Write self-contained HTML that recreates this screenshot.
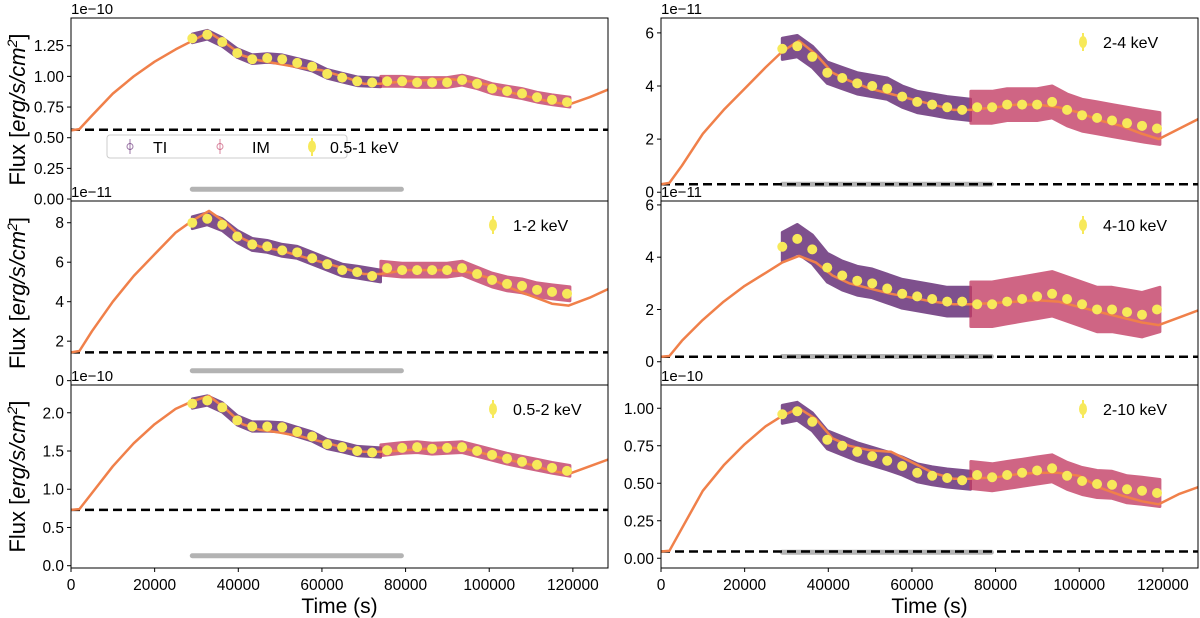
<!DOCTYPE html>
<html><head><meta charset="utf-8"><style>
body{margin:0;background:#fff}
svg{display:block;font-family:"Liberation Sans","DejaVu Sans",sans-serif}
</style></head><body>
<svg id="fig" width="1200" height="618" viewBox="0 0 1200 618"></svg>
<script>
// shared data
const binTimes = [29000,32584,36168,39752,43336,46920,50504,54088,57672,61256,64840,68424,72008,75592,79176,82760,86344,89928,93512,97096,100680,104264,107848,111432,115016,118600];
const modelTimes = [0,2000,5000,10000,15000,20000,25000,29000,33000,37000,41000,45000,50000,55000,60000,65000,70000,74000,80000,85000,90000,95000,100000,105000,110000,115000,119000,124000,129000];
const xTicks = [0,20000,40000,60000,80000,100000,120000];
// panel 1: 0.5-1 keV
const bins1 = [1.31,1.34,1.28,1.19,1.14,1.15,1.14,1.11,1.08,1.02,0.99,0.96,0.95,0.96,0.96,0.95,0.95,0.95,0.97,0.94,0.90,0.88,0.86,0.83,0.81,0.79];
const model1 = [0.56,0.57,0.68,0.86,1.00,1.12,1.22,1.29,1.36,1.27,1.17,1.13,1.10,1.07,1.05,1.00,0.94,0.94,0.96,0.97,0.98,0.96,0.93,0.87,0.83,0.79,0.77,0.83,0.90];
const ticks1 = [0,0.25,0.5,0.75,1.0,1.25];
const tickLabels1 = ["0.00","0.25","0.50","0.75","1.00","1.25"];
// panel 2: 1-2 keV
const bins2 = [8.0,8.2,7.9,7.3,6.9,6.8,6.6,6.5,6.2,5.9,5.6,5.5,5.3,5.7,5.6,5.6,5.6,5.6,5.7,5.4,5.1,4.9,4.8,4.6,4.5,4.4];
const model2 = [1.43,1.5,2.5,4.0,5.3,6.4,7.5,8.1,8.6,8.0,7.2,6.8,6.6,6.3,6.0,5.7,5.4,5.4,5.6,5.6,5.6,5.5,5.2,4.7,4.3,3.9,3.8,4.2,4.7];
const ticks2 = [0,2,4,6,8];
const tickLabels2 = ["0","2","4","6","8"];
// panel 3: 0.5-2 keV
const bins3 = [2.12,2.16,2.07,1.90,1.82,1.82,1.81,1.75,1.69,1.59,1.55,1.50,1.48,1.51,1.54,1.55,1.53,1.54,1.55,1.50,1.45,1.40,1.36,1.32,1.28,1.24];
const model3 = [0.73,0.74,0.95,1.30,1.60,1.85,2.05,2.15,2.22,2.05,1.85,1.78,1.74,1.69,1.62,1.55,1.49,1.49,1.51,1.53,1.55,1.52,1.45,1.38,1.32,1.24,1.20,1.30,1.40];
const ticks3 = [0,0.5,1.0,1.5,2.0];
const tickLabels3 = ["0.0","0.5","1.0","1.5","2.0"];
// panel 4: 2-4 keV
const bins4 = [5.4,5.5,5.1,4.5,4.3,4.1,4.0,3.9,3.6,3.4,3.3,3.2,3.1,3.2,3.2,3.3,3.3,3.3,3.4,3.1,2.9,2.8,2.7,2.6,2.5,2.4];
const model4 = [0.3,0.35,1.0,2.2,3.1,3.9,4.7,5.3,5.7,5.2,4.5,4.2,3.9,3.7,3.5,3.3,3.1,3.1,3.2,3.3,3.3,3.2,3.0,2.7,2.5,2.2,2.0,2.4,2.8];
const ticks4 = [0,2,4,6];
const tickLabels4 = ["0","2","4","6"];
// panel 5: 4-10 keV
const bins5 = [4.4,4.7,4.3,3.6,3.3,3.1,3.0,2.8,2.6,2.5,2.4,2.3,2.3,2.2,2.2,2.3,2.4,2.5,2.6,2.4,2.2,2.0,2.0,1.9,1.8,2.0];
const model5 = [0.19,0.22,0.8,1.6,2.3,2.9,3.4,3.8,4.05,3.8,3.3,3.0,2.8,2.6,2.45,2.3,2.2,2.2,2.25,2.3,2.35,2.3,2.1,1.9,1.7,1.5,1.4,1.7,2.0];
const ticks5 = [0,2,4,6];
const tickLabels5 = ["0","2","4","6"];
// panel 6: 2-10 keV
const bins6 = [0.96,0.98,0.91,0.79,0.75,0.71,0.68,0.65,0.615,0.57,0.55,0.535,0.52,0.555,0.54,0.555,0.57,0.585,0.60,0.55,0.515,0.495,0.49,0.46,0.45,0.435];
const model6 = [0.045,0.05,0.2,0.45,0.62,0.76,0.88,0.95,1.0,0.93,0.80,0.75,0.72,0.71,0.64,0.57,0.53,0.53,0.54,0.56,0.57,0.57,0.55,0.47,0.42,0.38,0.36,0.43,0.48];
const ticks6 = [0,0.25,0.5,0.75,1.0];
const tickLabels6 = ["0.00","0.25","0.50","0.75","1.00"];
// baselines and background levels
const baselines = [0.565,1.43,0.73,0.3,0.19,0.045];
const bkgLevels = [0.08,0.5,0.13,0.3,0.2,0.04];

const NS="http://www.w3.org/2000/svg";
const svg=document.getElementById('fig');
function mk(tag,attrs,parent){const e=document.createElementNS(NS,tag);for(const k in attrs)e.setAttribute(k,attrs[k]);(parent||svg).appendChild(e);return e;}

const panels=[
 {x0:71,x1:608,y0:18,y1:201,ymin:-0.016,ymax:1.476,bins:bins1,model:model1,ticks:ticks1,labels:tickLabels1,exp:"1e\u221210",name:"0.5-1 keV",spread:[0.035,0.04],xlab:false},
 {x0:71,x1:608,y0:201,y1:385,ymin:-0.22,ymax:9.1,bins:bins2,model:model2,ticks:ticks2,labels:tickLabels2,exp:"1e\u221211",name:"1-2 keV",spread:[0.3,0.35],xlab:false},
 {x0:71,x1:608,y0:385,y1:568,ymin:-0.03,ymax:2.363,bins:bins3,model:model3,ticks:ticks3,labels:tickLabels3,exp:"1e\u221210",name:"0.5-2 keV",spread:[0.06,0.07],xlab:true},
 {x0:661,x1:1198,y0:18,y1:201,ymin:-0.33,ymax:6.56,bins:bins4,model:model4,ticks:ticks4,labels:tickLabels4,exp:"1e\u221211",name:"2-4 keV",spread:[0.4,0.6],xlab:false},
 {x0:661,x1:1198,y0:201,y1:385,ymin:-0.89,ymax:6.15,bins:bins5,model:model5,ticks:ticks5,labels:tickLabels5,exp:"1e\u221211",name:"4-10 keV",spread:[0.55,0.85],xlab:false},
 {x0:661,x1:1198,y0:385,y1:568,ymin:-0.065,ymax:1.155,bins:bins6,model:model6,ticks:ticks6,labels:tickLabels6,exp:"1e\u221210",name:"2-10 keV",spread:[0.06,0.09],xlab:true}
];
const XMAX=128400;

panels.forEach((p,i)=>{
 const g=mk('g',{});
 
 
 const X=t=>p.x0+(t/XMAX)*(p.x1-p.x0);
 const Y=v=>p.y1-(v-p.ymin)/(p.ymax-p.ymin)*(p.y1-p.y0);
 const cid='clip'+i;
 const cp=mk('clipPath',{id:cid},g);mk('rect',{x:p.x0,y:p.y0,width:p.x1-p.x0,height:p.y1-p.y0},cp);
 const pg=mk('g',{'clip-path':'url(#'+cid+')'},g);
 const bk=mk('line',{x1:X(29000),x2:X(79000),y1:Y(bkgLevels[i]),y2:Y(bkgLevels[i]),stroke:'#9a9a9a','stroke-width':5,'stroke-linecap':'round',opacity:0.75},pg);
 
 
 const bl=mk('line',{x1:p.x0,x2:p.x1,y1:Y(baselines[i]),y2:Y(baselines[i]),stroke:'#000','stroke-width':2.5,'stroke-dasharray':'9,5'},pg);
 
 
 [[0,12,'#5b1f6e','ti'],[13,25,'#c23b62','im']].forEach(([a,b,col,nm],k)=>{
  const sp=p.spread[k];
  let up=[],dn=[];
  for(let j=a;j<=b;j++){const t=binTimes[j]+(j===a?(k?-1500:0):0)+(j===b?(k?700:2000):0);up.push(X(t).toFixed(1)+','+Y(p.bins[j]+sp).toFixed(1));dn.unshift(X(t).toFixed(1)+','+Y(p.bins[j]-sp).toFixed(1));}
  const pl=mk('polygon',{points:up.concat(dn).join(' '),fill:col,opacity:0.78,stroke:col,'stroke-width':3,'stroke-linejoin':'round'},pg);
  
  
 });
 const mp=p.model.map((v,j)=>X(modelTimes[j]).toFixed(1)+','+Y(v).toFixed(1)).join(' ');
 const ml=mk('polyline',{points:mp,fill:'none',stroke:'#f0804a','stroke-width':2.5,'stroke-linejoin':'round'},pg);
 
 
 p.bins.forEach((v,j)=>{
  const c=mk('circle',{cx:X(binTimes[j]),cy:Y(v),r:5,fill:'#f7e95a'},pg);
  
  
 });
 const fr=mk('rect',{x:p.x0,y:p.y0,width:p.x1-p.x0,height:p.y1-p.y0,fill:'none',stroke:'#000','stroke-width':1},g);
 
 
 p.ticks.forEach((v,j)=>{
  mk('line',{x1:p.x0-4,x2:p.x0,y1:Y(v),y2:Y(v),stroke:'#000'},g);
  const t=mk('text',{x:p.x0-7,y:Y(v)+5.5,'text-anchor':'end','font-size':15.5,fill:'#000'},g);
  t.textContent=p.labels[j];
  
  
 });
 const ex=mk('text',{x:p.x0,y:p.y0-4,'font-size':15,fill:'#000'},g);
 ex.textContent=p.exp;
 
 
 if(p.xlab){
  xTicks.forEach(v=>{
   mk('line',{x1:X(v),x2:X(v),y1:p.y1,y2:p.y1+4,stroke:'#000'},g);
   const t=mk('text',{x:X(v),y:p.y1+22,'text-anchor':'middle','font-size':15.5,fill:'#000'},g);
   t.textContent=v;
   
   
  });
  const xl=mk('text',{x:(p.x0+p.x1)/2,y:p.y1+45,'text-anchor':'middle','font-size':21,fill:'#000'},g);
  xl.textContent='Time (s)';
  
  
 }
 if(p.x0<100){
  const cy=(p.y0+p.y1)/2;
  const yl=mk('text',{x:0,y:0,transform:'translate(25,'+cy+') rotate(-90)','text-anchor':'middle','font-size':22,fill:'#000'},g);
  yl.innerHTML='Flux [<tspan font-style="italic">erg/s/cm</tspan><tspan font-size="14" dy="-8" font-style="italic">2</tspan><tspan dy="8">]</tspan>';
  
  
 }
 if(i===0){
  const lg=mk('g',{},g);
  
  
  mk('rect',{x:107,y:135,width:240,height:23,rx:3,fill:'#fff',stroke:'#ccc','fill-opacity':0.85},lg);
  [[130,'#5b1f6e','TI',153],[220,'#c23b62','IM',252]].forEach(([mx,col,lab,tx])=>{
   mk('line',{x1:mx,x2:mx,y1:139,y2:154,stroke:col,opacity:0.6},lg);
   mk('circle',{cx:mx,cy:146.5,r:3,fill:'none',stroke:col,opacity:0.6},lg);
   const t=mk('text',{x:tx,y:153,'font-size':16},lg);t.textContent=lab;
   
   
  });
  mk('line',{x1:312,x2:312,y1:138,y2:156,stroke:'#f7e95a','stroke-width':2},lg);
  mk('ellipse',{cx:312,cy:146.5,rx:4,ry:6,fill:'#f7e95a'},lg);
  const t=mk('text',{x:330,y:153,'font-size':16},lg);t.textContent=p.name;
  
  
 } else {
  const lx=p.x1-115, ly=p.y0+24;
  mk('line',{x1:lx,x2:lx,y1:ly-9,y2:ly+9,stroke:'#f7e95a','stroke-width':2},g);
  mk('ellipse',{cx:lx,cy:ly,rx:4,ry:6,fill:'#f7e95a'},g);
  const t=mk('text',{x:lx+20,y:ly+6,'font-size':16},g);t.textContent=p.name;
  
  
 }
});
</script>
</body></html>
